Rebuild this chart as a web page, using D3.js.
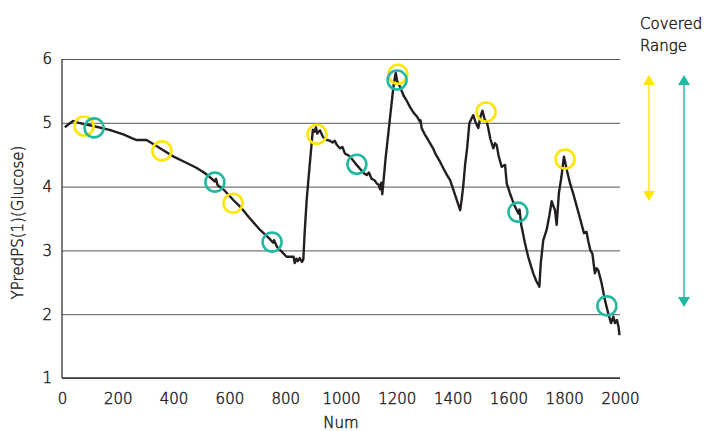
<!DOCTYPE html>
<html>
<head>
<meta charset="utf-8">
<script src="https://cdn.jsdelivr.net/npm/d3@7"></script>
<style>
  body { margin: 0; background: #fff; }
  text { font-family: "DejaVu Sans", Lato, sans-serif; font-weight: 200; fill: #222; stroke: #222; stroke-width: 0.45px; }
</style>
</head>
<body>
<script>
// line series
const lineNum = [10, 25, 40, 60, 112, 170, 220, 250, 268, 303, 330, 363, 400, 447, 480, 506, 530, 548, 552, 558, 580, 614, 640, 670, 710, 740, 757, 760, 770, 790, 805, 830, 834, 840, 845, 852, 860, 865, 870, 877, 885, 899, 905, 910, 915, 919, 925, 935, 949, 960, 970, 978, 984, 996, 1005, 1014, 1030, 1045, 1056, 1070, 1085, 1092, 1100, 1110, 1120, 1128, 1135, 1140, 1144, 1148, 1160, 1175, 1188, 1196, 1201, 1211, 1225, 1235, 1247, 1260, 1272, 1283, 1285, 1289, 1300, 1310, 1319, 1330, 1340, 1355, 1370, 1380, 1391, 1405, 1418, 1427, 1432, 1438, 1445, 1452, 1460, 1467, 1474, 1483, 1492, 1500, 1507, 1515, 1522, 1528, 1535, 1546, 1552, 1558, 1565, 1576, 1588, 1594, 1605, 1620, 1636, 1640, 1646, 1660, 1671, 1689, 1700, 1711, 1716, 1725, 1737, 1747, 1755, 1767, 1773, 1781, 1790, 1799, 1810, 1821, 1833, 1845, 1858, 1871, 1880, 1886, 1894, 1901, 1910, 1916, 1922, 1934, 1946, 1958, 1968, 1976, 1982, 1989, 1995, 1998];
const lineVal = [4.93, 4.98, 5.03, 5.00, 4.95, 4.89, 4.82, 4.76, 4.73, 4.73, 4.66, 4.57, 4.47, 4.37, 4.30, 4.23, 4.15, 4.08, 4.12, 4.02, 3.95, 3.79, 3.68, 3.52, 3.32, 3.20, 3.12, 3.16, 3.06, 2.97, 2.90, 2.90, 2.80, 2.87, 2.83, 2.88, 2.82, 2.86, 3.30, 3.79, 4.20, 4.89, 4.86, 4.93, 4.83, 4.86, 4.88, 4.78, 4.73, 4.72, 4.69, 4.72, 4.66, 4.60, 4.62, 4.52, 4.48, 4.40, 4.34, 4.27, 4.20, 4.18, 4.22, 4.12, 4.10, 4.05, 4.03, 3.96, 4.06, 3.88, 4.45, 5.05, 5.57, 5.78, 5.66, 5.57, 5.42, 5.35, 5.25, 5.16, 5.10, 5.02, 5.04, 4.92, 4.82, 4.75, 4.68, 4.60, 4.50, 4.39, 4.26, 4.18, 4.10, 3.92, 3.75, 3.63, 3.78, 4.00, 4.35, 4.60, 4.99, 5.06, 5.12, 5.00, 4.92, 5.10, 5.19, 5.05, 5.02, 4.91, 4.75, 4.60, 4.68, 4.65, 4.48, 4.31, 4.34, 4.05, 3.90, 3.72, 3.58, 3.64, 3.40, 3.10, 2.90, 2.64, 2.52, 2.43, 2.80, 3.16, 3.32, 3.55, 3.77, 3.63, 3.40, 3.90, 4.15, 4.47, 4.25, 4.05, 3.88, 3.69, 3.48, 3.27, 3.29, 3.15, 3.00, 2.95, 2.64, 2.72, 2.69, 2.49, 2.22, 2.01, 1.86, 1.96, 1.86, 1.91, 1.80, 1.67];

// marked points
const yellowNum = [79, 358, 613, 914, 1204, 1520, 1803];
const yellowVal = [4.95, 4.56, 3.74, 4.82, 5.76, 5.17, 4.43];
const tealNum = [115, 548, 753, 1057, 1201, 1634, 1953];
const tealVal = [4.92, 4.07, 3.13, 4.35, 5.67, 3.60, 2.13];

const xTicks = d3.range(0, 2001, 200);
const yTicks = [1, 2, 3, 4, 5, 6];

const yellow = "#ffe600", teal = "#22b9a3";

const W = 711, H = 431;
const svg = d3.select("body").append("svg").attr("width", W).attr("height", H);

const x = d3.scaleLinear().domain([0, 2000]).range([62, 620]);
const y = d3.scaleLinear().domain([1, 6]).range([378, 59]);

// y axis + gridlines
const gy = svg.append("g").attr("transform", "translate(62,0)")
  .call(d3.axisLeft(y).tickValues(yTicks).tickSize(-(x(2000) - x(0))).tickPadding(10).tickFormat(d3.format("d")));
gy.select(".domain").remove();
gy.selectAll(".tick line").attr("stroke", "#555").attr("stroke-width", 1);
gy.selectAll(".tick text").style("font-size", "15px").attr("fill", null);

// x axis labels
const gx = svg.append("g").attr("transform", "translate(0,378)")
  .call(d3.axisBottom(x).tickValues(xTicks).tickSize(0).tickFormat(d3.format("d")));
gx.select(".domain").remove();
gx.selectAll(".tick text").attr("y", 21).attr("dy", "0.35em").style("font-size", "15px").attr("fill", null);

// left and bottom axis lines
svg.append("line").attr("x1", x(0)).attr("x2", x(0)).attr("y1", y(6)).attr("y2", y(1))
  .attr("stroke", "#333").attr("stroke-width", 1.3);
svg.append("line").attr("x1", x(0)).attr("x2", x(2000)).attr("y1", y(1)).attr("y2", y(1))
  .attr("stroke", "#333").attr("stroke-width", 1.3);

// axis titles
svg.append("text").attr("transform", "translate(23," + ((y(1) + y(6)) / 2 + 4) + ") rotate(-90)")
  .attr("text-anchor", "middle").style("font-size", "15px").text("YPredPS(1)(Glucose)");
svg.append("text").attr("x", (x(0) + x(2000)) / 2).attr("y", 428)
  .attr("text-anchor", "middle").style("font-size", "15px").text("Num");

// main line
const pts = lineNum.map((n, i) => [n, lineVal[i]]);
svg.append("path").datum(pts)
  .attr("fill", "none").attr("stroke", "#231f20").attr("stroke-width", 2.4).attr("stroke-linejoin", "round")
  .attr("d", d3.line().x(d => x(d[0])).y(d => y(d[1])));

// circles
function rings(nums, vals, col) {
  svg.append("g").selectAll("circle")
    .data(nums.map((n, i) => [n, vals[i]]))
    .enter().append("circle")
    .attr("cx", d => x(d[0])).attr("cy", d => y(d[1])).attr("r", 9.5)
    .attr("fill", "none").attr("stroke", col).attr("stroke-width", 2.6);
}
rings(yellowNum, yellowVal, yellow);
rings(tealNum, tealVal, teal);

// legend
svg.append("text").attr("x", 640).attr("y", 29).style("font-size", "15px").text("Covered");
svg.append("text").attr("x", 640).attr("y", 51).style("font-size", "15px").text("Range");

function arrow(cx, y1, y2, col) {
  const g = svg.append("g");
  g.append("line").attr("x1", cx).attr("x2", cx).attr("y1", y1 + 8).attr("y2", y2 - 8)
    .attr("stroke", col).attr("stroke-width", 1.4);
  g.append("path").attr("fill", col)
    .attr("d", `M${cx},${y1} L${cx - 6},${y1 + 10} L${cx + 6},${y1 + 10} Z`);
  g.append("path").attr("fill", col)
    .attr("d", `M${cx},${y2} L${cx - 6},${y2 - 10} L${cx + 6},${y2 - 10} Z`);
}
arrow(649, 75, 201, yellow);
arrow(684, 75, 307, teal);
</script>
</body>
</html>
